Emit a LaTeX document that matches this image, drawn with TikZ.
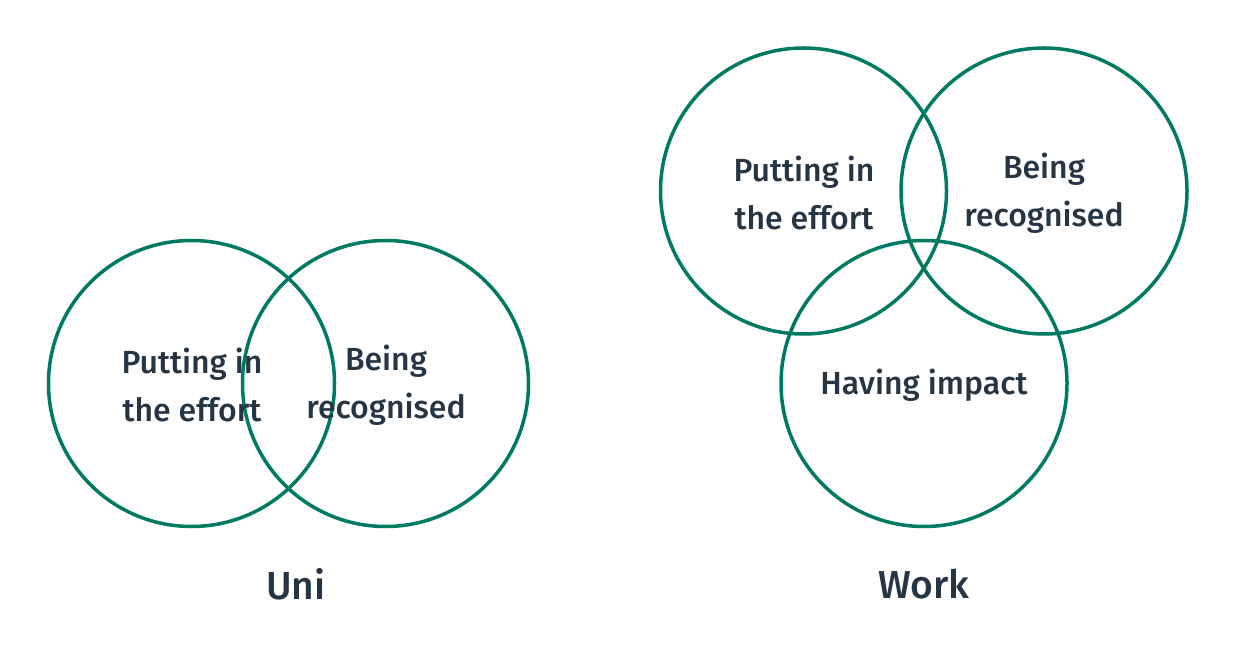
\documentclass[tikz,border=0pt]{standalone}
\usepackage{fontspec}
\setmainfont{Fira Sans}[UprightFont={* Medium}]
\definecolor{ring}{HTML}{007A62}
\definecolor{ink}{HTML}{263544}
\begin{document}
\begin{tikzpicture}[x=1pt,y=-1pt,
  ring/.style={circle, draw=ring, line width=3.5pt, minimum size=286pt, inner sep=0pt},
  lbl/.style={text=ink, font=\fontsize{32}{48}\selectfont, align=center, inner sep=0pt},
  ttl/.style={text=ink, font=\fontsize{39}{44}\selectfont, inner sep=0pt}]
\useasboundingbox (0,0) rectangle (1236,660);
\node[ring] (ua) at (191.5,383.5) {};
\node[ring] (ub) at (385.5,383.5) {};
\node[ring] (wa) at (803.5,191) {};
\node[ring] (wb) at (1044,191) {};
\node[ring] (wc) at (924,383.5) {};
\node[lbl] (tua) at (192,385) {Putting in\\the effort};
\node[lbl] (tub) at (386,385) {Being\\recognised};
\node[lbl] (twa) at (804,193) {Putting in\\the effort};
\node[lbl] (twb) at (1044,193) {Being\\recognised};
\node[lbl] (twc) at (924,385) {Having impact};
\node[ttl] (uni) at (296,584) {Uni};
\node[ttl] (work) at (924,584) {Work};
\end{tikzpicture}
\end{document}
